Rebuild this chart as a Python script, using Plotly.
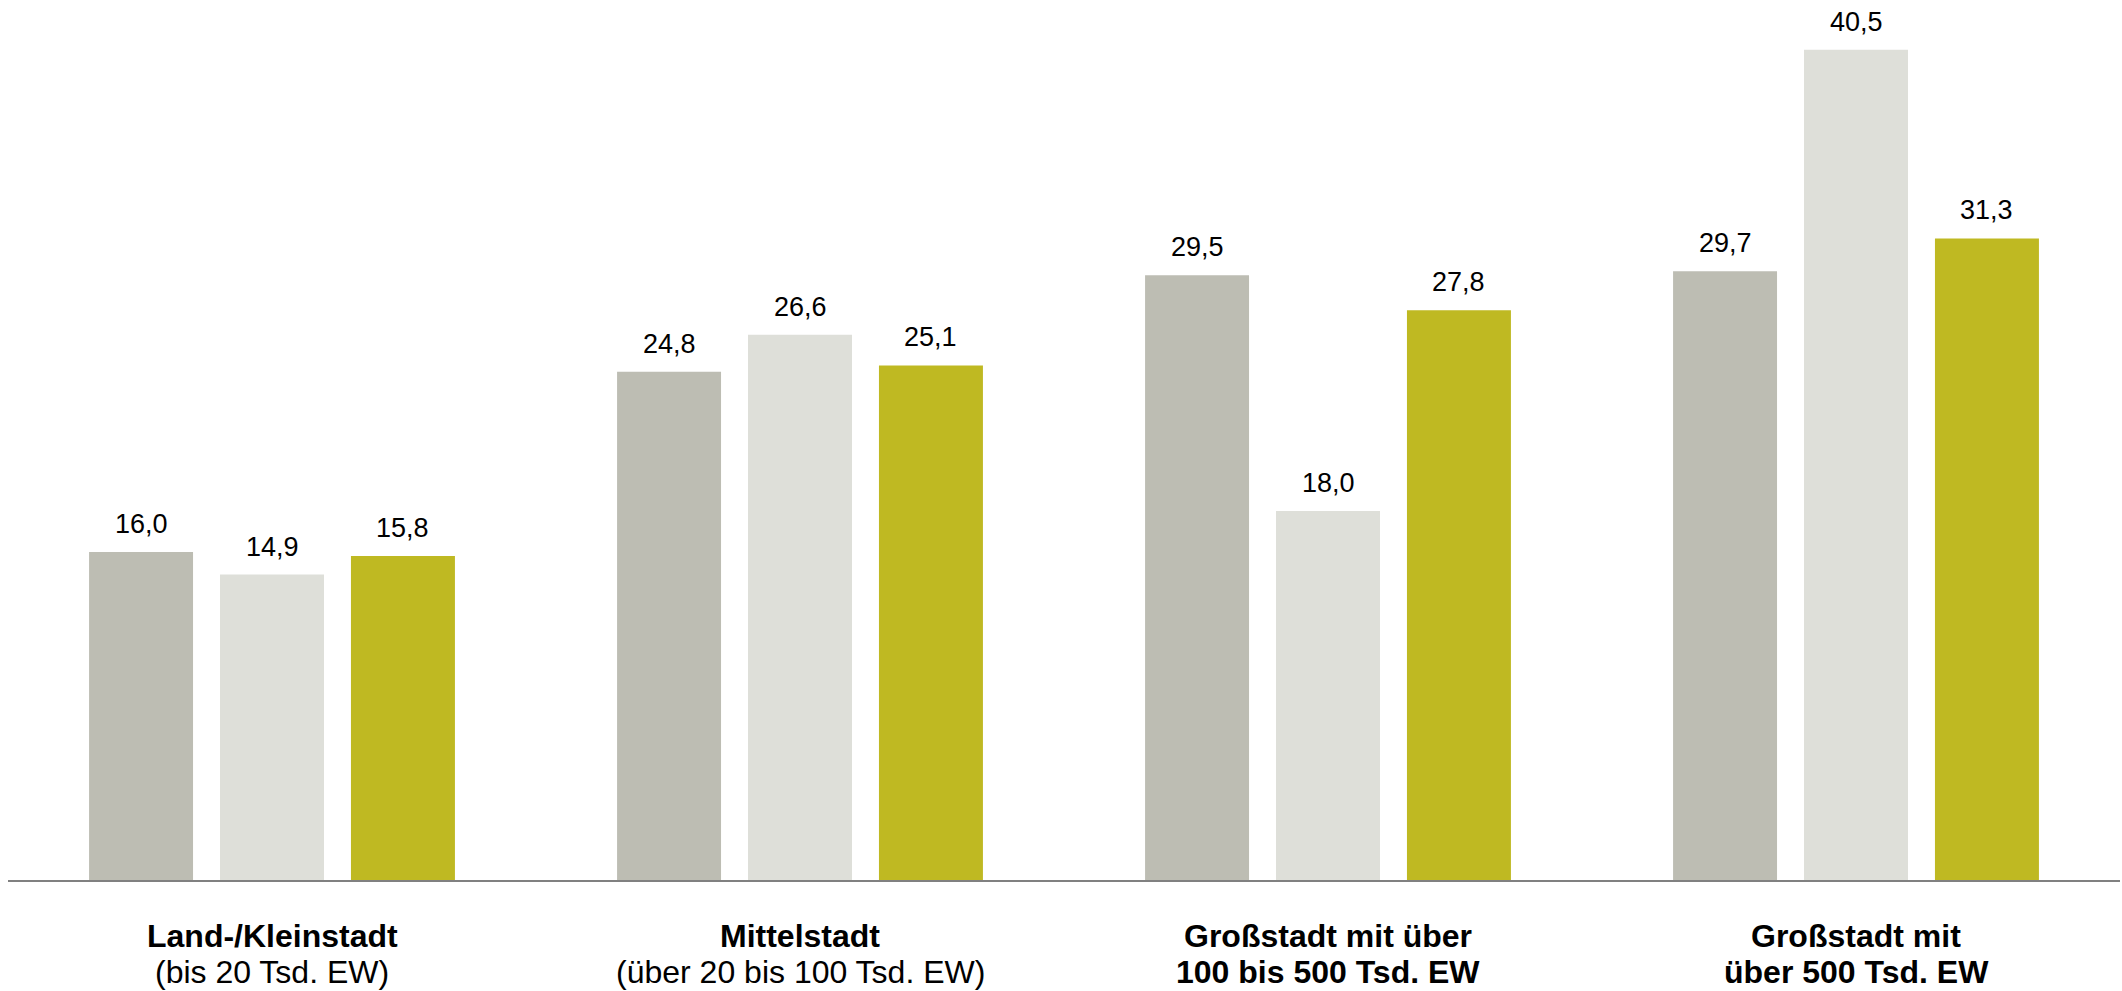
import numpy as np
import plotly.graph_objects as go

# ---- data ----
cat_bold = ["Land-/Kleinstadt", "Mittelstadt", "Großstadt mit über", "Großstadt mit"]
cat_sub = ["(bis 20 Tsd. EW)", "(über 20 bis 100 Tsd. EW)", "100 bis 500 Tsd. EW", "über 500 Tsd. EW"]
sub_bold = [False, False, True, True]
series_names = ["Serie 1", "Serie 2", "Serie 3"]
serie1 = [16.0, 24.8, 29.5, 29.7]
serie2 = [14.9, 26.6, 18.0, 40.5]
serie3 = [15.8, 25.1, 27.8, 31.3]

colors = ["#BDBDB3", "#DEDFD9", "#BFB922"]
FONT = "Liberation Sans, Arial, sans-serif"
BARGAP = 0.256
BARGROUPGAP = 0.206

x = np.arange(len(cat_bold))
series = [serie1, serie2, serie3]

fig = go.Figure()
for name, vals, col in zip(series_names, series, colors):
    fig.add_trace(go.Bar(x=x, y=vals, name=name, marker=dict(color=col, line=dict(width=0)),
                         hoverinfo="y"))

annotations = []
nser = len(series)
slot = (1 - BARGAP) / nser
for j, vals in enumerate(series):
    off = (j - (nser - 1) / 2) * slot
    for i, v in enumerate(vals):
        annotations.append(dict(
            x=i + off, y=v, xref="x", yref="y",
            text=f"{v:.1f}".replace(".", ","),
            showarrow=False, yanchor="bottom", yshift=11,
            font=dict(family=FONT, size=27, color="#000000")))

for i in range(len(cat_bold)):
    annotations.append(dict(
        x=i, y=0, xref="x", yref="y", text=f"<b>{cat_bold[i]}</b>",
        showarrow=False, yanchor="middle", yshift=-56,
        font=dict(family=FONT, size=32, color="#000000")))
    t = f"<b>{cat_sub[i]}</b>" if sub_bold[i] else cat_sub[i]
    annotations.append(dict(
        x=i, y=0, xref="x", yref="y", text=t,
        showarrow=False, yanchor="middle", yshift=-92,
        font=dict(family=FONT, size=32, color="#000000")))

fig.update_layout(
    width=2122, height=991,
    margin=dict(l=8, r=2, t=0, b=111),
    paper_bgcolor="white", plot_bgcolor="white",
    barmode="group", bargap=BARGAP, bargroupgap=BARGROUPGAP,
    showlegend=False,
    annotations=annotations,
    font=dict(family=FONT),
    xaxis=dict(range=[-0.5, 3.5], showticklabels=False, ticks="", showgrid=False,
               zeroline=False, showline=True, linecolor="#808080", linewidth=2),
    yaxis=dict(range=[0, 42.93], visible=False, showgrid=False, zeroline=False),
)

fig.write_html(
    "out.html",
    config={"displayModeBar": False},
    post_script="document.body.style.margin='0px';document.body.style.overflow='hidden';",
)
